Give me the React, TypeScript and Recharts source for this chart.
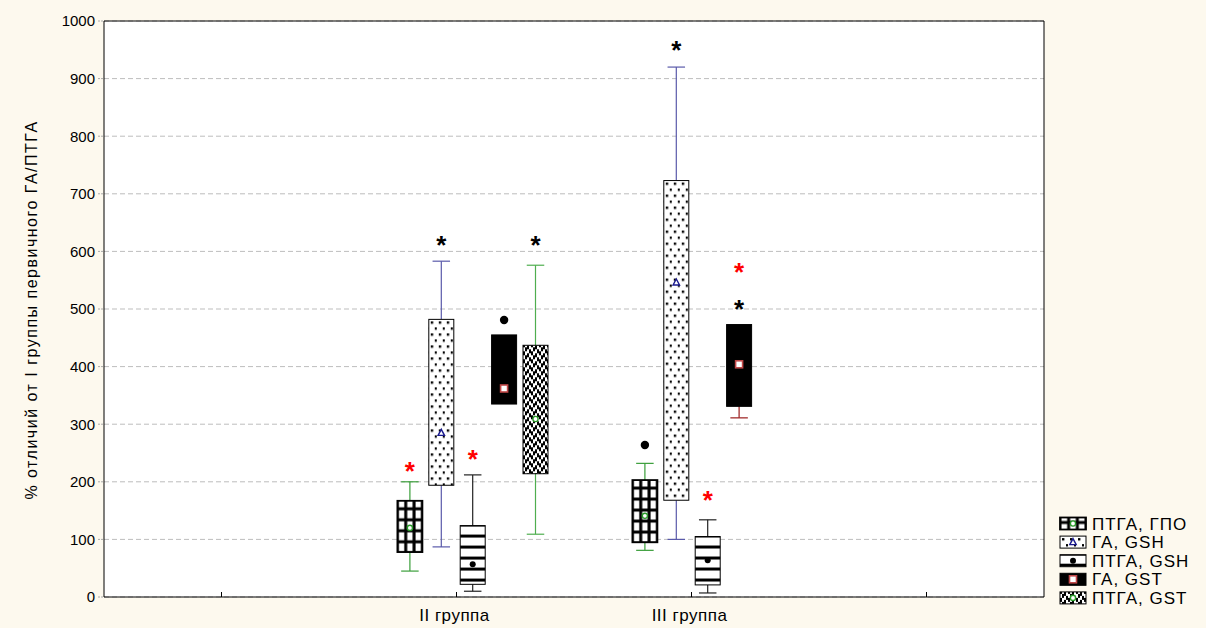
import React from 'react';
import { ComposedChart, Bar, XAxis, YAxis, CartesianGrid } from 'recharts';

const FONT = '"Liberation Sans", Arial, sans-serif';

const groups = ['', 'II группа', 'III группа', ''];
const yTicks = [0, 100, 200, 300, 400, 500, 600, 700, 800, 900, 1000];

// нижний ус, Q1, среднее, Q3, верхний ус
const ptgaGpo = [null, [45, 78, 120, 167, 200], [81, 95, 141, 203, 232], null];
const gaGsh = [null, [87, 194, 285, 482, 583], [100, 168, 546, 723, 920], null];
const ptgaGsh = [null, [10, 22, 57, 124, 212], [7, 21, 64, 105, 134], null];
const gaGst = [null, [335, 335, 362, 455, 455], [311, 331, 404, 473, 473], null];
const ptgaGst = [null, [109, 214, 309, 437, 576], null, null];

// выбросы
const outliersPtgaGpo = [null, null, 264, null];
const outliersGaGst = [null, 481, null, null];

// звёздочки (достоверность)
const blackStarsGaGsh = [null, 618, 956, null];
const blackStarsGaGst = [null, null, 507, null];
const blackStarsPtgaGst = [null, 618, null, null];
const redStarsPtgaGpo = [null, 225, null, null];
const redStarsPtgaGsh = [null, 247, 176, null];
const redStarsGaGst = [null, null, 571, null];

type Series = {
  key: string;
  name: string;
  values: (number[] | null)[];
  fill: string;
  whisker: string;
  mark: string;
  markColor: string;
  outliers?: (number | null)[];
  black?: (number | null)[];
  red?: (number | null)[];
};

const series: Series[] = [
  { key: 'ptgaGpo', name: 'ПТГА, ГПО', values: ptgaGpo, fill: 'grid', whisker: '#3a9e3a', mark: 'circle', markColor: '#2a9a2a', outliers: outliersPtgaGpo, red: redStarsPtgaGpo },
  { key: 'gaGsh', name: 'ГА, GSH', values: gaGsh, fill: 'dots', whisker: '#5a5aaa', mark: 'triangle', markColor: '#1a1a8e', black: blackStarsGaGsh },
  { key: 'ptgaGsh', name: 'ПТГА, GSH', values: ptgaGsh, fill: 'stripes', whisker: '#222', mark: 'dot', markColor: '#000', red: redStarsPtgaGsh },
  { key: 'gaGst', name: 'ГА, GST', values: gaGst, fill: 'solid', whisker: '#9a1c1c', mark: 'square', markColor: '#c04848', outliers: outliersGaGst, black: blackStarsGaGst, red: redStarsGaGst },
  { key: 'ptgaGst', name: 'ПТГА, GST', values: ptgaGst, fill: 'checker', whisker: '#4fae4f', mark: 'circle', markColor: '#2a9a2a', black: blackStarsPtgaGst },
];

const data = groups.map((name, i) => {
  const row: any = { name, idx: i, blank: null };
  series.forEach((s) => {
    const v = s.values[i];
    row[s.key] = v ? [v[0], v[4]] : null;
  });
  return row;
});

const checkerBits = ['1010', '0110', '0101', '1001'];

const BoxFill = ({ kind, id, x, y, w, h, gridOffset = 8 }: any) => {
  if (kind === 'solid') {
    return <rect x={x} y={y} width={w} height={h} fill="#000" stroke="#000" />;
  }
  let pat: any = null;
  if (kind === 'grid') {
    const pw = w / 3;
    pat = (
      <pattern id={id} patternUnits="userSpaceOnUse" x={x} y={y + gridOffset} width={pw} height={11}>
        <rect width={pw} height={11} fill="#fff" />
        <rect x={0} width={1.5} height={11} fill="#000" />
        <rect x={pw - 1.5} width={1.5} height={11} fill="#000" />
        <rect y={0} width={pw} height={1.5} fill="#000" />
        <rect y={9.5} width={pw} height={1.5} fill="#000" />
      </pattern>
    );
  } else if (kind === 'dots') {
    pat = (
      <pattern id={id} patternUnits="userSpaceOnUse" x={x} y={y} width={8} height={12}>
        <rect width={8} height={12} fill="#fff" />
        <rect x={2} y={2} width={2.4} height={2.4} fill="#000" />
        <rect x={6} y={8} width={2.4} height={2.4} fill="#000" />
      </pattern>
    );
  } else if (kind === 'stripes') {
    pat = (
      <pattern id={id} patternUnits="userSpaceOnUse" x={x} y={y + 9} width={4} height={11}>
        <rect width={4} height={11} fill="#fff" />
        <rect y={0} width={4} height={3} fill="#000" />
      </pattern>
    );
  } else {
    pat = (
      <pattern id={id} patternUnits="userSpaceOnUse" x={x} y={y} width={8} height={8}>
        <rect width={8} height={8} fill="#fff" />
        {checkerBits.map((r, ri) =>
          r.split('').map((b, ci) =>
            b === '1' ? <rect key={ri + '-' + ci} x={ci * 2} y={ri * 2} width={2} height={2} fill="#000" /> : null
          )
        )}
      </pattern>
    );
  }
  return (
    <g>
      <defs>{pat}</defs>
      <rect x={x} y={y} width={w} height={h} fill={`url(#${id})`} stroke="#000" strokeWidth={kind === 'grid' ? 1.8 : 1} />
    </g>
  );
};

const Mark = ({ type, cx, cy, color }: any) => {
  if (type === 'circle') return <circle cx={cx} cy={cy} r={2.6} fill="#fff" stroke={color} strokeWidth={1.4} />;
  if (type === 'dot') return <circle cx={cx} cy={cy} r={3} fill={color} />;
  if (type === 'triangle')
    return <polygon points={`${cx},${cy - 3.5} ${cx + 3.2},${cy + 2.5} ${cx - 3.2},${cy + 2.5}`} fill="#fff" stroke={color} strokeWidth={1.4} />;
  return <rect x={cx - 3.5} y={cy - 3.5} width={7} height={7} fill="#fff" stroke={color} strokeWidth={1.6} />;
};

const Star = ({ cx, cy, color }: any) => (
  <text x={cx} y={cy + 13} textAnchor="middle" fontSize={26} fontWeight="bold" fontFamily={FONT} fill={color}>
    *
  </text>
);

const makeShape = (s: Series) => (props: any) => {
  const { x, y, width, height, payload } = props;
  const i = payload ? payload.idx : -1;
  const v = s.values[i];
  if (!v || height == null) return <g />;
  const [lo, q1, mean, q3, hi] = v;
  const top = Math.min(y, y + height);
  const bot = Math.max(y, y + height);
  const py = (val: number) => bot - ((val - lo) / (hi - lo)) * (bot - top);
  const cx = x + width / 2;
  const cap = width * 0.35;
  const out = s.outliers ? s.outliers[i] : null;
  const bs = s.black ? s.black[i] : null;
  const rs = s.red ? s.red[i] : null;
  return (
    <g>
      {hi > q3 && (
        <g stroke={s.whisker} strokeWidth={1.2}>
          <line x1={cx} x2={cx} y1={py(hi)} y2={py(q3)} />
          <line x1={cx - cap} x2={cx + cap} y1={py(hi)} y2={py(hi)} />
        </g>
      )}
      {lo < q1 && (
        <g stroke={s.whisker} strokeWidth={1.2}>
          <line x1={cx} x2={cx} y1={py(q1)} y2={py(lo)} />
          <line x1={cx - cap} x2={cx + cap} y1={py(lo)} y2={py(lo)} />
        </g>
      )}
      <BoxFill kind={s.fill} id={`p-${s.key}-${i}`} x={x} y={py(q3)} w={width} h={py(q1) - py(q3)} />
      <Mark type={s.mark} cx={cx} cy={py(mean)} color={s.markColor} />
      {out != null && <circle cx={cx} cy={py(out)} r={4.2} fill="#000" />}
      {bs != null && <Star cx={cx} cy={py(bs)} color="#000" />}
      {rs != null && <Star cx={cx} cy={py(rs)} color="#ff0000" />}
    </g>
  );
};

const XTick = ({ x, y, payload }: any) => (
  <g>
    <line x1={x} x2={x} y1={y - 11} y2={y - 16} stroke="#000" />
    <text x={x - 2} y={y} dy="0.75em" textAnchor="middle" fontSize={17} letterSpacing={0.5} fontFamily={FONT} fill="#000">
      {payload.value}
    </text>
  </g>
);

export default function App() {
  return (
    <div style={{ position: 'absolute', left: 0, top: 0, width: 1206, height: 628, background: '#fdf9ee' }}>
      <ComposedChart
        width={1206}
        height={628}
        data={data}
        margin={{ top: 20, right: 161, bottom: 0, left: 0 }}
        barSize={25}
        barGap={6.4}
      >
        <CartesianGrid vertical={false} stroke="#bdbdbd" strokeDasharray="5 3" fill="#fff" />
        <XAxis
          dataKey="name"
          height={31}
          axisLine={{ stroke: '#000' }}
          tickLine={false}
          tickSize={0}
          tickMargin={11}
          interval={0}
          tick={<XTick />}
        />
        <XAxis xAxisId="top" orientation="top" dataKey="name" height={1} tick={false} tickLine={false} axisLine={{ stroke: '#000' }} />
        <YAxis
          width={104}
          domain={[0, 1000]}
          ticks={yTicks}
          interval={0}
          axisLine={{ stroke: '#000' }}
          tickLine={{ stroke: '#aaa', strokeDasharray: '2 1' }}
          tickSize={6}
          tickMargin={3}
          tick={{ fontSize: 15, fill: '#000', fontFamily: FONT }}
        />
        <YAxis yAxisId="right" orientation="right" width={1} domain={[0, 1000]} tick={false} tickLine={false} axisLine={{ stroke: '#000' }} />
        <Bar dataKey="blank" isAnimationActive={false} />
        {series.map((s) => (
          <Bar key={s.key} dataKey={s.key} isAnimationActive={false} shape={makeShape(s)} />
        ))}
      </ComposedChart>
      <svg width={1206} height={628} style={{ position: 'absolute', left: 0, top: 0, pointerEvents: 'none' }}>
        <text
          transform="translate(31,310) rotate(-90)"
          textAnchor="middle"
          dominantBaseline="central"
          fontSize={16}
          letterSpacing={1.5}
          fontFamily={FONT}
          fill="#000"
        >
          % отличий от I группы первичного ГА/ПТГА
        </text>
        {series.map((s, i) => {
          const cy = 523.5 + i * 18.6;
          return (
            <g key={s.key}>
              <BoxFill kind={s.fill} id={`leg-${s.key}`} x={1060} y={cy - 6} w={26} h={12} gridOffset={5} />
              <Mark type={s.mark} cx={1073} cy={cy} color={s.markColor} />
              <text x={1092} y={cy + 6} fontSize={17} letterSpacing={1} fontFamily={FONT} fill="#000">
                {s.name}
              </text>
            </g>
          );
        })}
      </svg>
    </div>
  );
}
